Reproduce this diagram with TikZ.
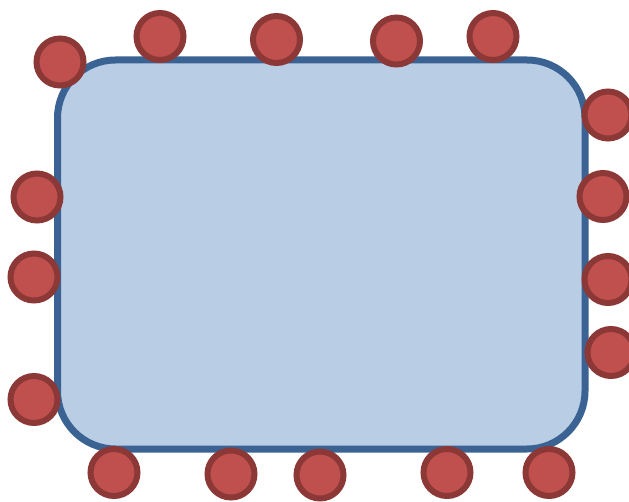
\documentclass[tikz,border=0pt]{standalone}
\begin{document}
\begin{tikzpicture}[x=1pt,y=-1pt,
  board/.style={draw=boardline, fill=boardfill, line width=7pt, rounded corners=58pt,
    minimum width=527.5pt, minimum height=389pt, inner sep=0pt},
  pin/.style={circle, draw=pinline, fill=pinfill, line width=6pt, minimum size=47pt, inner sep=0pt}]
\definecolor{boardfill}{HTML}{B9CDE5}
\definecolor{boardline}{HTML}{3A6394}
\definecolor{pinfill}{HTML}{C0504D}
\definecolor{pinline}{HTML}{8C3836}
\useasboundingbox (0,0) rectangle (629,502);
\node[board] (rect) at (321.25,254.5) {};
% top
\node[pin] (t1) at (60,62) {};
\node[pin] (t2) at (160,36.5) {};
\node[pin] (t3) at (276.5,39.5) {};
\node[pin] (t4) at (396.5,41) {};
\node[pin] (t5) at (493,36.5) {};
% right
\node[pin] (r1) at (608,115) {};
\node[pin] (r2) at (603,196.5) {};
\node[pin] (r3) at (608,279.5) {};
\node[pin] (r4) at (611,352.5) {};
% left
\node[pin] (l1) at (37,197) {};
\node[pin] (l2) at (34,277) {};
\node[pin] (l3) at (34,399.5) {};
% bottom
\node[pin] (b1) at (114,472.5) {};
\node[pin] (b2) at (231,474) {};
\node[pin] (b3) at (320,475) {};
\node[pin] (b4) at (447,472.5) {};
\node[pin] (b5) at (549,472.5) {};
\end{tikzpicture}
\end{document}
